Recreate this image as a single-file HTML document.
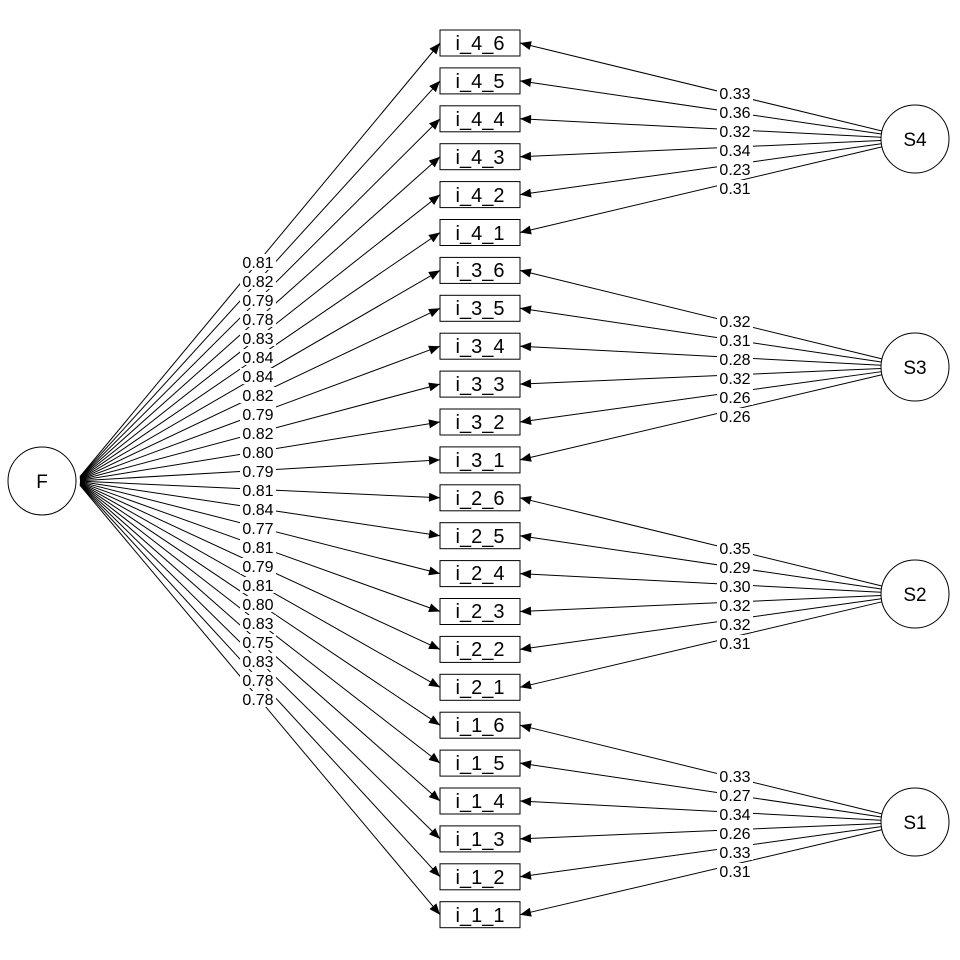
<!DOCTYPE html>
<html><head><meta charset="utf-8"><style>
html,body{margin:0;padding:0;background:#fff;}
svg{display:block;font-family:"Liberation Sans",Arial,sans-serif;}
</style></head><body>
<svg id="s" width="960" height="960" viewBox="0 0 960 960">
<rect width="960" height="960" fill="#fff"/>
<g id="lines" stroke="#000" stroke-width="1" fill="none"></g>
<g id="heads" fill="#000"></g>
<g id="bgs" fill="#fff"></g>
<g fill="none" stroke="#000" stroke-width="1">
<circle cx="42" cy="481" r="34"/>
<circle cx="915" cy="139" r="34"/>
<circle cx="915" cy="367" r="34"/>
<circle cx="915" cy="594" r="34"/>
<circle cx="915" cy="822" r="34"/>
</g>
<g id="boxes" fill="#fff" stroke="#000" stroke-width="1"></g>
<g text-anchor="middle" font-size="20" fill="#000">
<text x="42" y="488" font-size="19">F</text>
<text x="915" y="146" font-size="19">S4</text>
<text x="915" y="374" font-size="19">S3</text>
<text x="915" y="601" font-size="19">S2</text>
<text x="915" y="829" font-size="19">S1</text>
<text x="480" y="50">i_4_6</text>
<text x="480" y="88">i_4_5</text>
<text x="480" y="126">i_4_4</text>
<text x="480" y="164">i_4_3</text>
<text x="480" y="202">i_4_2</text>
<text x="480" y="240">i_4_1</text>
<text x="480" y="277">i_3_6</text>
<text x="480" y="315">i_3_5</text>
<text x="480" y="353">i_3_4</text>
<text x="480" y="391">i_3_3</text>
<text x="480" y="429">i_3_2</text>
<text x="480" y="467">i_3_1</text>
<text x="480" y="505">i_2_6</text>
<text x="480" y="543">i_2_5</text>
<text x="480" y="580">i_2_4</text>
<text x="480" y="618">i_2_3</text>
<text x="480" y="656">i_2_2</text>
<text x="480" y="694">i_2_1</text>
<text x="480" y="732">i_1_6</text>
<text x="480" y="770">i_1_5</text>
<text x="480" y="808">i_1_4</text>
<text x="480" y="846">i_1_3</text>
<text x="480" y="884">i_1_2</text>
<text x="480" y="922">i_1_1</text>
</g>
<g text-anchor="middle" font-size="16" fill="#000">
<text x="258" y="268">0.81</text><text x="258" y="287">0.82</text><text x="258" y="306">0.79</text><text x="258" y="325">0.78</text>
<text x="258" y="344">0.83</text><text x="258" y="363">0.84</text><text x="258" y="382">0.84</text><text x="258" y="401">0.82</text>
<text x="258" y="420">0.79</text><text x="258" y="439">0.82</text><text x="258" y="458">0.80</text><text x="258" y="477">0.79</text>
<text x="258" y="496">0.81</text><text x="258" y="515">0.84</text><text x="258" y="534">0.77</text><text x="258" y="553">0.81</text>
<text x="258" y="572">0.79</text><text x="258" y="591">0.81</text><text x="258" y="610">0.80</text><text x="258" y="629">0.83</text>
<text x="258" y="648">0.75</text><text x="258" y="667">0.83</text><text x="258" y="686">0.78</text><text x="258" y="705">0.78</text>
<text x="735" y="99">0.33</text><text x="735" y="118">0.36</text><text x="735" y="137">0.32</text><text x="735" y="156">0.34</text><text x="735" y="175">0.23</text><text x="735" y="194">0.31</text>
<text x="735" y="327">0.32</text><text x="735" y="346">0.31</text><text x="735" y="365">0.28</text><text x="735" y="384">0.32</text><text x="735" y="403">0.26</text><text x="735" y="422">0.26</text>
<text x="735" y="554">0.35</text><text x="735" y="573">0.29</text><text x="735" y="592">0.30</text><text x="735" y="611">0.32</text><text x="735" y="630">0.32</text><text x="735" y="649">0.31</text>
<text x="735" y="782">0.33</text><text x="735" y="801">0.27</text><text x="735" y="820">0.34</text><text x="735" y="839">0.26</text><text x="735" y="858">0.33</text><text x="735" y="877">0.31</text>
</g>
</svg>
<script>
(function(){
var NS="http://www.w3.org/2000/svg";
function el(p,t,a){var e=document.createElementNS(NS,t);for(var k in a)e.setAttribute(k,a[k]);document.getElementById(p).appendChild(e);}
function head(x,y,dx,dy){var L=Math.hypot(dx,dy);dx/=L;dy/=L;var bx=x-dx*11,by=y-dy*11,px=-dy*4.5,py=dx*4.5;
el("heads","polygon",{points:x+","+y+" "+(bx+px)+","+(by+py)+" "+(bx-px)+","+(by-py)});}
var Sc=[139,367,594,822];
for(var k=0;k<24;k++){
 var y=43+37.9*k;
 el("boxes","rect",{x:440,y:y-13,width:80,height:26});
 var sx=80,sy=481+(y-481)*0.01;
 el("lines","line",{x1:sx,y1:sy,x2:440,y2:y});head(440,y,440-sx,y-sy);
 var fy=262+19*k;el("bgs","rect",{x:240,y:fy-8,width:36,height:16});
 var g=Math.floor(k/6),cy=Sc[g];
 var dx=520-915,dy=y-cy,L=Math.hypot(dx,dy);sx=915+34*dx/L;sy=cy+34*dy/L;
 el("lines","line",{x1:sx,y1:sy,x2:520,y2:y});head(520,y,520-sx,y-sy);
 var j=k%6,ly=cy-46+19*j;el("bgs","rect",{x:717,y:ly-8,width:36,height:16});
}
})();
</script>
</body></html>
